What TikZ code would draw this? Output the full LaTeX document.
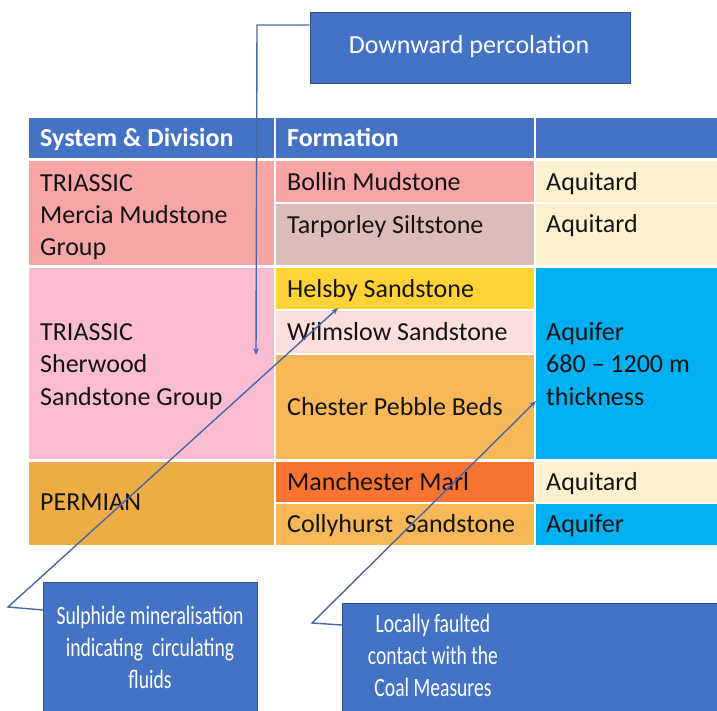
\documentclass[tikz,border=0pt]{standalone}
\usepackage{fontspec}
\setmainfont{Carlito}
\newfontfamily\narrowfont{Carlito}[FakeStretch=0.74]
\usetikzlibrary{arrows.meta}
\definecolor{hdr}{HTML}{4472C4}
\definecolor{boxedge}{HTML}{2F528F}
\definecolor{linec}{HTML}{4767A8}
\definecolor{mercia}{HTML}{F8A5A5}
\definecolor{tarporley}{HTML}{DEBBBB}
\definecolor{aquitard}{HTML}{FFF0CF}
\definecolor{sherwood}{HTML}{FABCD1}
\definecolor{helsby}{HTML}{FFD335}
\definecolor{wilmslow}{HTML}{FDDEDE}
\definecolor{chester}{HTML}{F8B858}
\definecolor{aquifer}{HTML}{00B0F0}
\definecolor{permian}{HTML}{EEAD44}
\definecolor{marl}{HTML}{FA7331}
\definecolor{txtc}{HTML}{141414}
\begin{document}
\begin{tikzpicture}[x=1pt,y=-1pt,
  txt/.style={anchor=base west, inner sep=0pt, text=txtc, font=\fontsize{26}{32}\selectfont},
  htxt/.style={anchor=base west, inner sep=0pt, text=white, font=\fontsize{26}{32}\selectfont\bfseries},
  callbox/.style={draw=boxedge, fill=hdr, line width=0.8pt, inner sep=0pt},
  ctxt/.style={anchor=base, inner sep=0pt, text=white, font=\fontsize{26}{32}\selectfont},
  ntxt/.style={anchor=base, inner sep=0pt, text=white, font=\fontsize{26.5}{32}\selectfont\narrowfont},
  conn/.style={draw=linec, line width=1.4pt},
  tipend/.style={-{Stealth[length=7pt,width=5.5pt]}}
]
\clip (0,0) rectangle (717,710);
\fill[white] (0,0) rectangle (717,710);
% header
\fill[hdr] (29,118) rectangle (274,158);
\fill[hdr] (276,118) rectangle (533.5,158);
\fill[hdr] (535.5,118) rectangle (717,158);
% column 1
\fill[mercia] (29,161) rectangle (274,265);
\fill[sherwood] (29,267.5) rectangle (274,459);
\fill[permian] (29,461.5) rectangle (274,545);
% column 2
\fill[mercia] (276,161) rectangle (533.5,202);
\fill[tarporley] (276,204) rectangle (533.5,265);
\fill[helsby] (276,267.5) rectangle (533.5,308.5);
\fill[wilmslow] (276,310.5) rectangle (533.5,353);
\fill[chester] (276,355) rectangle (533.5,459);
\fill[marl] (276,461.5) rectangle (533.5,502);
\fill[chester] (276,504) rectangle (533.5,545);
% column 3
\fill[aquitard] (535.5,161) rectangle (717,202);
\fill[aquitard] (535.5,204) rectangle (717,265);
\fill[aquifer] (535.5,267.5) rectangle (717,459);
\fill[aquitard] (535.5,461.5) rectangle (717,502);
\fill[aquifer] (535.5,504) rectangle (717,545);

% header texts
\node[htxt] (h1) at (40,146) {System \& Division};
\node[htxt] (h2) at (287,146) {Formation};
% column 1 texts
\node[txt] (m1) at (40,191) {TRIASSIC};
\node[txt] (m2) at (40,223) {Mercia Mudstone};
\node[txt] (m3) at (40,255) {Group};
\node[txt] (s1) at (40,340) {TRIASSIC};
\node[txt] (s2) at (40,372) {Sherwood};
\node[txt] (s3) at (40,405) {Sandstone Group};
\node[txt] (p1) at (40,510) {PERMIAN};
% column 2 texts
\node[txt] (f1) at (287,190) {Bollin Mudstone};
\node[txt] (f2) at (287,233) {Tarporley Siltstone};
\node[txt] (f3) at (287,297) {Helsby Sandstone};
\node[txt] (f4) at (287,340) {Wilmslow Sandstone};
\node[txt] (f5) at (287,415) {Chester Pebble Beds};
\node[txt] (f6) at (287,490) {Manchester Marl};
\node[txt] (f7) at (287,532) {Collyhurst\ \ Sandstone};
% column 3 texts
\node[txt] (a1) at (546,190) {Aquitard};
\node[txt] (a2) at (546,232) {Aquitard};
\node[txt] (a3) at (546,340) {Aquifer};
\node[txt] (a4) at (546,372) {680 – 1200 m};
\node[txt] (a5) at (546,405) {thickness};
\node[txt] (a6) at (546,490) {Aquitard};
\node[txt] (a7) at (546,532) {Aquifer};

% callout: downward percolation
\node[callbox, minimum width=320pt, minimum height=71pt] (pbox) at (470,47.5) {};
\node[ctxt] (ptext) at (469,53) {Downward percolation};
\coordinate (pbend) at (257,25);
\coordinate (ptip) at (256,355);
\draw[conn,tipend] (pbox.west |- pbend) -- (pbend) -- (ptip);

% callout: sulphide mineralisation
\node[callbox, minimum width=214pt, minimum height=132pt, anchor=north west] (sbox) at (43,582) {};
\node[ntxt] (st1) at (150,624) {Sulphide mineralisation};
\node[ntxt] (st2) at (150,656) {indicating\ \ circulating};
\node[ntxt] (st3) at (150,688) {fluids};
\coordinate (sbend) at (8,607);
\coordinate (stip) at (338,308);
\draw[conn,tipend] ([yshift=-28pt]sbox.north west) -- (sbend) -- (stip);

% callout: locally faulted contact
\node[callbox, minimum width=400pt, minimum height=120pt, anchor=north west] (lbox) at (342,603) {};
\node[ntxt] (lt1) at (433,632) {Locally faulted};
\node[ntxt] (lt2) at (433,664) {contact with the};
\node[ntxt] (lt3) at (433,696) {Coal Measures};
\coordinate (lbend) at (312,623);
\coordinate (ltip) at (536,401);
\draw[conn,tipend] ([yshift=-22pt]lbox.north west) -- (lbend) -- (ltip);
\end{tikzpicture}
\end{document}
